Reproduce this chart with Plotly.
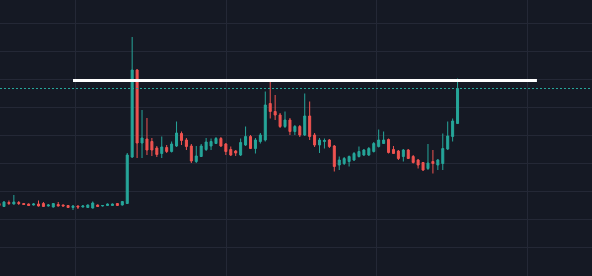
import plotly.graph_objects as go

# Candle index (bar number) and OHLC values
bars = list(range(-1, 93))

opens = [72.5, 69.5, 73.5, 72, 73.5, 72.5, 72, 71, 72, 72.5, 70, 69, 71.5, 71, 70.5, 68.5, 70, 69, 68.5, 68, 71,
         70, 70.5, 70.5, 72.5, 71, 72.5, 119, 206, 133, 137, 134.5, 128, 122.5, 128.5, 124.5, 130, 142.5, 136, 130,
         114.5, 119.5, 126.5, 130, 132.5, 137.5, 132, 126.5, 125, 121, 131, 139.5, 127.5, 134.5, 136, 172.5, 164.5,
         161, 149.5, 156, 144.5, 149.5, 141, 160, 141, 131, 134.5, 136, 130, 111, 112.5, 114.5, 116, 119.5, 121, 121,
         124.5, 129.5, 132.5, 136.5, 126.5, 125, 119.5, 126, 119.5, 116, 113.5, 107.5, 114.5, 111, 112.5, 127, 139.5,
         152.5]
highs = [74, 75, 75.5, 81, 75, 73, 72.5, 73, 75.5, 74, 72, 73, 74, 71.5, 71, 71, 70.5, 71, 71.5, 74.5, 71.5,
         71, 72.5, 72.5, 73, 75, 123, 239, 207, 166, 158, 138, 130, 139.5, 131, 134.5, 154.5, 144.5, 138, 132,
         130, 132, 138, 137.5, 139, 139, 133, 129.5, 126, 137.5, 149.5, 141, 138, 143, 184.5, 196, 181,
         163, 164.5, 158, 151, 151, 182.5, 174.5, 143, 138, 137.5, 137, 131, 119.5, 119, 120.5, 124, 129.5, 127, 129,
         134, 146.5, 144.5, 137.5, 130, 126, 127, 127, 121, 117, 114, 132, 126, 117, 142.5, 154.5, 157.5,
         197.5]
lows = [69.5, 69, 71, 71.5, 71, 71, 70, 70.5, 69.5, 69, 69.5, 68.5, 69.5, 69.5, 68, 66, 67, 68.5, 68, 67.5, 69,
        69.5, 70, 70, 70, 70.5, 72, 118, 118, 118, 121, 120, 119, 118, 123, 123.5, 129, 131, 126, 113,
        113, 119, 125, 126, 132, 129, 121, 120, 120, 120, 130, 127, 122.5, 132.5, 134.5, 157.5, 156,
        148, 148, 141, 141, 139, 140, 136, 129, 123, 127.5, 128, 104.5, 106, 111, 109.5, 115, 118.5, 120, 120,
        123.5, 128.5, 132, 122.5, 122, 116, 114.5, 117, 112.5, 107.5, 105, 106, 102.5, 106, 106, 126, 134.5,
        152]
closes = [70.5, 74, 72.5, 74, 72.5, 71.5, 70.5, 72, 70, 69.5, 71, 72.5, 70, 70, 68.5, 70, 69, 70, 71, 73, 69.5,
          70.5, 72, 72, 70.5, 74.5, 121, 206, 133, 138, 126, 126, 121.5, 129, 124.5, 132, 143, 135.5, 129.5, 115,
          120, 130, 134, 134.5, 137.5, 130, 124.5, 121, 123, 133.5, 139.5, 127.5, 136, 141, 171, 164.5, 161,
          149.5, 156, 144.5, 149.5, 141, 160, 139.5, 131, 136, 135.5, 129.5, 109.5, 116, 117.5, 119.5, 122.5, 124.5,
          126, 127.5, 132.5, 136, 136, 123.5, 122.5, 117.5, 126, 117.5, 113.5, 111, 106, 113, 112.5, 116, 127.5,
          140, 155, 187.5]

# Horizontal level drawn on the chart (start bar, end bar) and its price
level_bars = [14.0, 108.1]
level_price = 195.5

BG = "#151924"
GRID = "#242836"
UP = "#26a69a"
DOWN = "#ef5350"

fig = go.Figure()
fig.add_trace(go.Candlestick(
    x=bars, open=opens, high=highs, low=lows, close=closes,
    increasing=dict(line=dict(color=UP, width=1), fillcolor=UP),
    decreasing=dict(line=dict(color=DOWN, width=1), fillcolor=DOWN),
    whiskerwidth=0, showlegend=False, hoverinfo="skip",
))

fig.add_trace(go.Scatter(
    x=level_bars, y=[level_price, level_price], mode="lines",
    line=dict(color="#ffffff", width=3), showlegend=False, hoverinfo="skip",
))

# last-price dashed line
fig.add_shape(type="line", xref="paper", x0=0, x1=1, yref="y",
              y0=closes[-1], y1=closes[-1],
              line=dict(color=UP, width=1, dash="2px,2px"))

fig.update_layout(
    width=592, height=276,
    margin=dict(l=0, r=0, t=0, b=0),
    paper_bgcolor=BG, plot_bgcolor=BG,
    boxgap=0.42,
    xaxis=dict(range=[-0.81, 119.27], showgrid=True, gridcolor=GRID, gridwidth=1,
               tick0=14.6, dtick=30.5, showticklabels=False, zeroline=False,
               rangeslider=dict(visible=False), showline=False, ticks=""),
    yaxis=dict(range=[0, 276], showgrid=True, gridcolor=GRID, gridwidth=1,
               tick0=1, dtick=28, showticklabels=False, zeroline=False,
               showline=False, ticks=""),
)

fig.write_html("out.html")
